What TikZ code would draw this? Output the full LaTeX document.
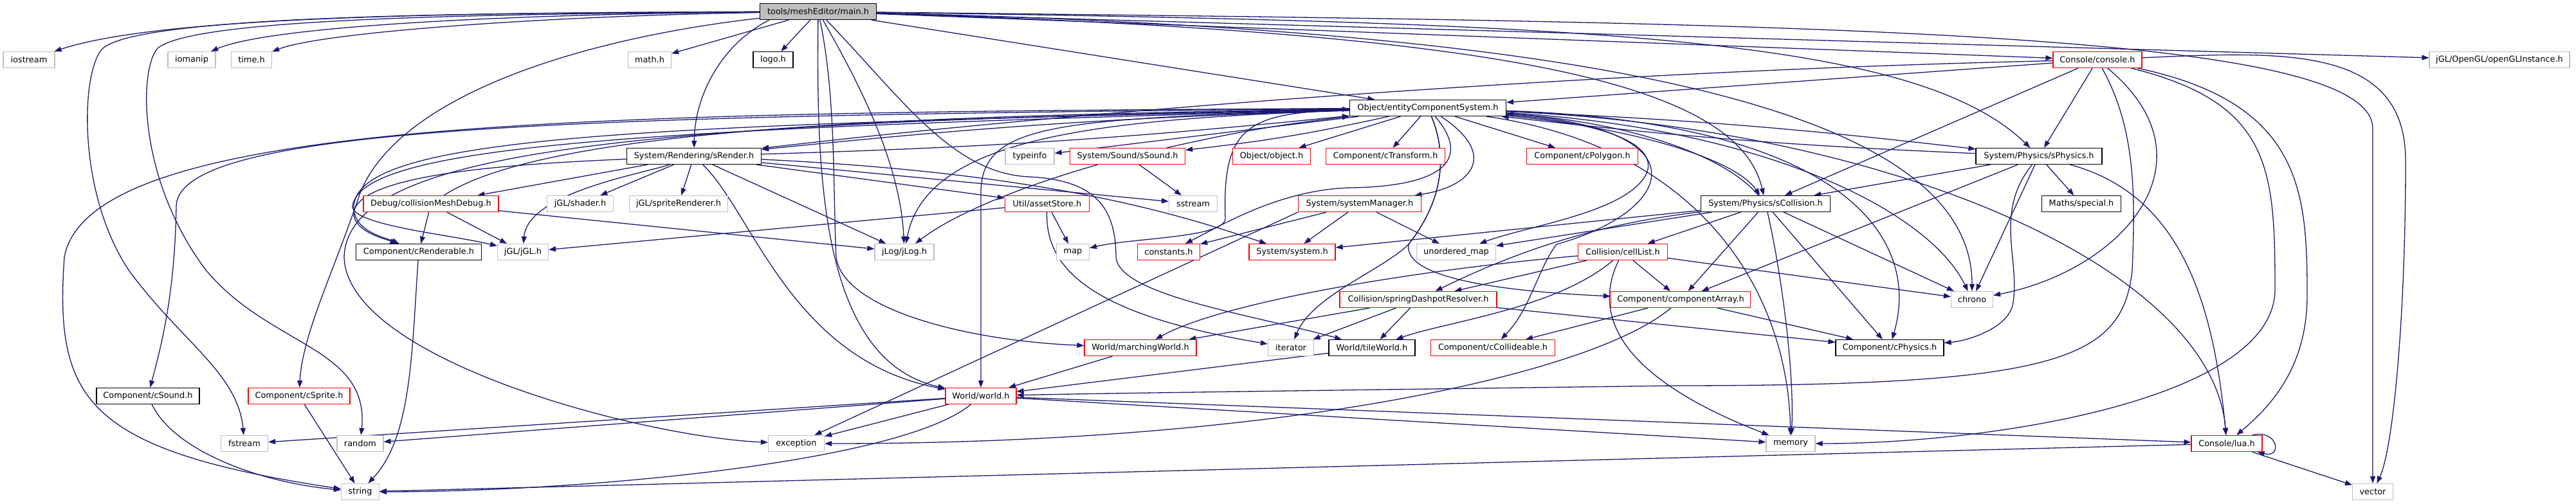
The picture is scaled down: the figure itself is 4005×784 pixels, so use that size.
\documentclass[tikz,border=0pt]{standalone}
\usepackage{fontspec}
\setmainfont{DejaVu Sans}
\usepackage{tikz}
\usetikzlibrary{
  arrows.meta,
  backgrounds,
}
\definecolor{edgeBlue}{HTML}{191970}
\definecolor{extGrey}{HTML}{BFBFBF}
\definecolor{truncRed}{HTML}{FF0000}
\definecolor{rootFill}{HTML}{BFBFBF}
\tikzset{
  hdrBox/.style={
    rectangle, draw=black, line width=1.2pt, fill=white,
    minimum height=25pt, inner xsep=3pt, inner ysep=0pt,
    font=\fontsize{12.9}{14}\selectfont,
  },
  hdrExt/.style={hdrBox, draw=extGrey},
  hdrTrunc/.style={hdrBox, draw=truncRed},
  hdrRoot/.style={hdrBox, fill=rootFill},
  incArrow/.style={
    -{Triangle[length=11pt,width=8pt]}, line width=1.3pt, color=edgeBlue,
  },
}

\begin{document}
\begin{tikzpicture}[x=1pt, y=-1pt]
\useasboundingbox (0,0) rectangle (4005,784);

\node[hdrRoot, minimum width=181] (mainH) at (1272,18) {tools/meshEditor/main.h};

\node[hdrExt, minimum width=80] (iostreamH) at (45,93) {iostream};
\node[hdrExt, minimum width=74] (iomanipH) at (298,93) {iomanip};
\node[hdrExt, minimum width=63] (timeH) at (391,93) {time.h};
\node[hdrExt, minimum width=67] (mathH) at (1010,93) {math.h};
\node[hdrBox, minimum width=62] (logoH) at (1202,93) {logo.h};
\node[hdrTrunc, minimum width=138] (consoleH) at (3261,93) {Console/console.h};
\node[hdrExt, minimum width=218] (openglH) at (3886,93) {jGL/OpenGL/openGLInstance.h};

\node[hdrBox, minimum width=243] (ecsH) at (2220,168) {Object/entityComponentSystem.h};

\node[hdrBox, minimum width=209] (srenderH) at (1079,243) {System/Rendering/sRender.h};
\node[hdrExt, minimum width=76] (typeinfoH) at (1601,243) {typeinfo};
\node[hdrTrunc, minimum width=179] (ssoundH) at (1753,243) {System/Sound/sSound.h};
\node[hdrTrunc, minimum width=121] (objectH) at (1977,243) {Object/object.h};
\node[hdrTrunc, minimum width=185] (ctransformH) at (2154,243) {Component/cTransform.h};
\node[hdrTrunc, minimum width=173] (cpolygonH) at (2460,243) {Component/cPolygon.h};
\node[hdrBox, minimum width=196] (sphysicsH) at (3170,243) {System/Physics/sPhysics.h};

\node[hdrTrunc, minimum width=210] (colmeshH) at (670,317) {Debug/collisionMeshDebug.h};
\node[hdrExt, minimum width=103] (shaderH) at (902,317) {jGL/shader.h};
\node[hdrExt, minimum width=153] (spriteRendH) at (1055,317) {jGL/spriteRenderer.h};
\node[hdrTrunc, minimum width=131] (assetStoreH) at (1628,317) {Util/assetStore.h};
\node[hdrExt, minimum width=75] (sstreamH) at (1855,317) {sstream};
\node[hdrTrunc, minimum width=191] (sysMgrH) at (2114,317) {System/systemManager.h};
\node[hdrBox, minimum width=201] (scollisionH) at (2745,317) {System/Physics/sCollision.h};
\node[hdrBox, minimum width=123] (specialH) at (3236,317) {Maths/special.h};

\node[hdrBox, minimum width=195] (crenderableH) at (651,392) {Component/cRenderable.h};
\node[hdrExt, minimum width=79] (jglH) at (813,392) {jGL/jGL.h};
\node[hdrExt, minimum width=92] (jlogH) at (1406,392) {jLog/jLog.h};
\node[hdrExt, minimum width=51] (mapH) at (1668,392) {map};
\node[hdrTrunc, minimum width=97] (constantsH) at (1817,392) {constants.h};
\node[hdrTrunc, minimum width=134] (systemH) at (2009,392) {System/system.h};
\node[hdrExt, minimum width=123] (umapH) at (2264,392) {unordered\_map};
\node[hdrTrunc, minimum width=139] (cellListH) at (2523,392) {Collision/cellList.h};

\node[hdrTrunc, minimum width=244] (springDashH) at (2205,466) {Collision/springDashpotResolver.h};
\node[hdrTrunc, minimum width=217] (compArrayH) at (2613,466) {Component/componentArray.h};
\node[hdrExt, minimum width=65] (chronoH) at (3066,466) {chrono};

\node[hdrTrunc, minimum width=174] (marchingH) at (1773,541) {World/marchingWorld.h};
\node[hdrExt, minimum width=71] (iteratorH) at (2007,541) {iterator};
\node[hdrBox, minimum width=134] (tileWorldH) at (2133,541) {World/tileWorld.h};
\node[hdrTrunc, minimum width=193] (ccollideH) at (2321,541) {Component/cCollideable.h};
\node[hdrBox, minimum width=168] (cphysicsH) at (2938,541) {Component/cPhysics.h};

\node[hdrBox, minimum width=160] (csoundH) at (230,616) {Component/cSound.h};
\node[hdrTrunc, minimum width=158] (cspriteH) at (465,616) {Component/cSprite.h};
\node[hdrTrunc, minimum width=110] (worldH) at (1525,616) {World/world.h};

\node[hdrExt, minimum width=73] (fstreamH) at (380,690) {fstream};
\node[hdrExt, minimum width=72] (randomH) at (560,690) {random};
\node[hdrExt, minimum width=87] (exceptionH) at (1238,690) {exception};
\node[hdrExt, minimum width=76] (memoryH) at (2784,690) {memory};
\node[hdrTrunc, minimum width=110] (luaH) at (3462,690) {Console/lua.h};

\node[hdrExt, minimum width=59] (stringH) at (560,765) {string};
\node[hdrExt, minimum width=63] (vectorH) at (3689,765) {vector};

\begin{scope}[on background layer]
% main.h
\draw[incArrow] (mainH) .. controls (700,20) and (250,25) .. (iostreamH);
\draw[incArrow] (mainH) .. controls (800,22) and (420,40) .. (iomanipH);
\draw[incArrow] (mainH) .. controls (850,25) and (500,50) .. (timeH);
\draw[incArrow] (mainH) -- (mathH);
\draw[incArrow] (mainH) -- (logoH);
\draw[incArrow] ([xshift=15pt]mainH.south west) .. controls (1120,70) and (1080,150) .. (srenderH);
\draw[incArrow] (mainH) -- (ecsH);
\draw[incArrow] (mainH) -- (consoleH);
\draw[incArrow] (mainH) -- (openglH);
\draw[incArrow] (mainH) .. controls (2500,35) and (2980,60) .. (sphysicsH);
\draw[incArrow] (mainH) .. controls (2300,50) and (2700,120) .. (scollisionH);
\draw[incArrow] (mainH) .. controls (2400,45) and (3066,150) .. (chronoH);
\draw[incArrow] (mainH) .. controls (2800,35) and (3689,45) .. (3689,200) -- (vectorH);
\draw[incArrow] (mainH) .. controls (1330,120) and (1400,250) .. (jlogH);
\draw[incArrow] (mainH) .. controls (1270,250) and (1270,560) .. (worldH);
\draw[incArrow] (mainH) .. controls (1300,150) and (1295,300) .. (1300,400)
  .. controls (1310,480) and (1500,530) .. (marchingH);
\draw[incArrow] (mainH) .. controls (1400,150) and (1480,270) .. (1600,275)
  .. controls (1700,280) and (1735,320) .. (1735,400)
  .. controls (1740,460) and (1950,490) .. (tileWorldH);
\draw[incArrow] (mainH) .. controls (700,20) and (220,25) .. (160,75)
  .. controls (125,110) and (120,300) .. (200,420)
  .. controls (280,530) and (370,580) .. (fstreamH);
\draw[incArrow] (mainH) .. controls (700,22) and (300,30) .. (245,75)
  .. controls (215,110) and (215,280) .. (320,420)
  .. controls (420,540) and (575,540) .. (randomH);
\draw[incArrow] (mainH) .. controls (900,60) and (620,150) .. (560,300)
  .. controls (520,420) and (470,520) .. (cspriteH);
% entityComponentSystem.h
\draw[incArrow] (ecsH) -- (typeinfoH);
\draw[incArrow] (ecsH) to[bend left=3] (ssoundH);
\draw[incArrow] (ssoundH) to[bend left=3] (ecsH);
\draw[incArrow] (ecsH) -- (objectH);
\draw[incArrow] (ecsH) -- (ctransformH);
\draw[incArrow] (ecsH) -- (cpolygonH);
\draw[incArrow] (ecsH) .. controls (2330,240) and (2290,290) .. (sysMgrH);
\draw[incArrow] (ecsH) .. controls (2290,250) and (2240,290) .. (2100,292)
  .. controls (1990,295) and (1900,350) .. (constantsH);
\draw[incArrow] (ecsH) .. controls (1940,175) and (1900,195) .. (1905,340)
  .. controls (1905,370) and (1760,370) .. (mapH);
\draw[incArrow] (ecsH) .. controls (2480,190) and (2580,220) .. (2560,270)
  .. controls (2530,330) and (2380,350) .. (umapH);
\draw[incArrow] (ecsH) .. controls (1700,185) and (1440,215) .. (jlogH);
\draw[incArrow] (ecsH) .. controls (900,175) and (140,185) .. (100,400)
  .. controls (85,620) and (130,700) .. (stringH);
\draw[incArrow] (ecsH) .. controls (900,180) and (280,195) .. (274,320)
  .. controls (272,460) and (250,540) .. (csoundH);
\draw[incArrow] (ecsH) .. controls (1000,195) and (560,210) .. (550,320)
  .. controls (548,360) and (600,370) .. (crenderableH);
\draw[incArrow] (ecsH) .. controls (1000,200) and (565,225) .. (548,320)
  .. controls (545,350) and (700,365) .. (jglH);
\draw[incArrow] (ecsH) .. controls (1000,190) and (540,230) .. (535,400)
  .. controls (540,560) and (1000,680) .. (exceptionH);
\draw[incArrow] (ecsH) to[bend right=2] (srenderH);
\draw[incArrow] (srenderH) to[bend right=2] (ecsH);
\draw[incArrow] (ecsH) to[bend left=2] (sphysicsH);
\draw[incArrow] (sphysicsH) to[bend left=2] (ecsH);
\draw[incArrow] (ecsH) .. controls (2550,200) and (2700,250) .. (scollisionH);
\draw[incArrow] (scollisionH) .. controls (2680,240) and (2530,190) .. (ecsH);
\draw[incArrow] (ecsH) .. controls (1650,185) and (1525,190) .. (1525,300) -- (worldH);
\draw[incArrow] (ecsH) .. controls (2250,240) and (2245,310) .. (2190,380)
  .. controls (2150,420) and (2040,460) .. (iteratorH);
\draw[incArrow] (ecsH) .. controls (2250,240) and (2245,310) .. (2190,380)
  .. controls (2180,440) and (2380,455) .. (compArrayH);
\draw[incArrow] (ecsH) .. controls (2660,200) and (2600,330) .. (2420,380)
  .. controls (2390,420) and (2380,480) .. (ccollideH);
\draw[incArrow] (ecsH) .. controls (2750,200) and (3000,330) .. (chronoH);
\draw[incArrow] (ecsH) .. controls (2850,190) and (2990,360) .. (cphysicsH);
\draw[incArrow] (ecsH) .. controls (2650,230) and (2780,460) .. (memoryH);
\draw[incArrow] (ecsH) .. controls (2950,200) and (3440,420) .. (luaH);
% sRender.h
\draw[incArrow] (srenderH) -- (colmeshH);
\draw[incArrow] (srenderH) -- (shaderH);
\draw[incArrow] (srenderH) -- (spriteRendH);
\draw[incArrow] (srenderH) .. controls (1000,270) and (820,300) .. (jglH);
\draw[incArrow] (srenderH) -- (jlogH);
\draw[incArrow] (srenderH) .. controls (800,255) and (560,270) .. (550,330)
  .. controls (548,360) and (600,372) .. (crenderableH);
\draw[incArrow] (srenderH) -- (assetStoreH);
\draw[incArrow] (srenderH) -- (sstreamH);
\draw[incArrow] (srenderH) .. controls (1650,270) and (1850,340) .. (systemH);
\draw[incArrow] (srenderH) .. controls (1170,330) and (1230,560) .. (worldH);
% collisionMeshDebug.h
\draw[incArrow] (colmeshH) -- (crenderableH);
\draw[incArrow] (colmeshH) -- (jglH);
\draw[incArrow] (colmeshH) -- (jlogH);
\draw[incArrow] (colmeshH) .. controls (850,200) and (1400,180) .. (ecsH);
% assetStore.h, sSound.h, systemManager.h
\draw[incArrow] (assetStoreH) -- (jglH);
\draw[incArrow] (assetStoreH) -- (mapH);
\draw[incArrow] (assetStoreH) .. controls (1625,420) and (1700,490) .. (iteratorH);
\draw[incArrow] (ssoundH) .. controls (1640,275) and (1500,320) .. (jlogH);
\draw[incArrow] (ssoundH) -- (sstreamH);
\draw[incArrow] (sysMgrH) -- (constantsH);
\draw[incArrow] (sysMgrH) -- (systemH);
\draw[incArrow] (sysMgrH) -- (umapH);
\draw[incArrow] (sysMgrH.south west) -- (exceptionH);
% sPhysics.h
\draw[incArrow] (sphysicsH) -- (scollisionH);
\draw[incArrow] (sphysicsH) -- (specialH);
\draw[incArrow] (sphysicsH) -- (compArrayH);
\draw[incArrow] (sphysicsH) -- (chronoH);
\draw[incArrow] (sphysicsH) .. controls (3100,330) and (3140,400) .. (3130,470)
  .. controls (3125,510) and (3060,530) .. (cphysicsH);
\draw[incArrow] (sphysicsH) .. controls (3380,300) and (3440,450) .. (luaH);
% sCollision.h
\draw[incArrow] (scollisionH) -- (cellListH);
\draw[incArrow] (scollisionH) .. controls (2560,340) and (2420,360) .. (springDashH);
\draw[incArrow] (scollisionH) -- (compArrayH);
\draw[incArrow] (scollisionH) -- (chronoH);
\draw[incArrow] (scollisionH) -- (umapH);
\draw[incArrow] (scollisionH) -- (systemH);
\draw[incArrow] (scollisionH) -- (cphysicsH);
\draw[incArrow] (scollisionH) .. controls (2775,450) and (2790,600) .. (memoryH);
% console.h
\draw[incArrow] (consoleH) -- (ecsH);
\draw[incArrow] (consoleH) .. controls (2500,110) and (1700,170) .. (srenderH);
\draw[incArrow] (consoleH) -- (sphysicsH);
\draw[incArrow] (consoleH) -- (scollisionH);
\draw[incArrow] (consoleH) .. controls (3450,250) and (3300,420) .. (chronoH);
\draw[incArrow] (consoleH) .. controls (3530,160) and (3537,260) .. (3537,450)
  .. controls (3537,620) and (3100,690) .. (memoryH);
\draw[incArrow] (consoleH) .. controls (3580,160) and (3587,300) .. (3587,460)
  .. controls (3587,580) and (3520,640) .. (luaH);
\draw[incArrow] (consoleH) .. controls (3550,80) and (3740,70) .. (3740,250)
  .. controls (3740,500) and (3720,700) .. (vectorH);
\draw[incArrow] (consoleH) .. controls (3320,200) and (3320,300) .. (3315,420)
  .. controls (3300,560) and (3200,600) .. (2600,600)
  .. controls (2000,608) and (1700,612) .. (worldH);
% cellList.h, springDashpotResolver.h, componentArray.h
\draw[incArrow] (cellListH) -- (springDashH);
\draw[incArrow] (cellListH) -- (compArrayH);
\draw[incArrow] (cellListH) -- (chronoH);
\draw[incArrow] (cellListH) .. controls (2200,420) and (1900,470) .. (marchingH);
\draw[incArrow] (cellListH) .. controls (2420,480) and (2250,500) .. (tileWorldH);
\draw[incArrow] (cellListH) .. controls (2480,480) and (2500,580) .. (memoryH);
\draw[incArrow] (springDashH) -- (marchingH);
\draw[incArrow] (springDashH) -- (iteratorH);
\draw[incArrow] (springDashH) -- (tileWorldH);
\draw[incArrow] (springDashH) -- (cphysicsH);
\draw[incArrow] (compArrayH) -- (cphysicsH);
\draw[incArrow] (compArrayH) -- (ccollideH);
\draw[incArrow] (compArrayH) .. controls (2480,580) and (2000,690) .. (exceptionH);
% world.h
\draw[incArrow] (marchingH) -- (worldH);
\draw[incArrow] (tileWorldH) -- (worldH);
\draw[incArrow] (worldH) -- (fstreamH);
\draw[incArrow] (worldH) -- (randomH);
\draw[incArrow] (worldH) -- (exceptionH);
\draw[incArrow] (worldH) .. controls (1400,720) and (900,765) .. (stringH);
\draw[incArrow] (worldH) -- (memoryH);
\draw[incArrow] (worldH) -- (luaH);
% leaves
\draw[incArrow] (crenderableH) .. controls (640,550) and (640,680) .. (stringH);
\draw[incArrow] (csoundH) .. controls (270,700) and (400,750) .. (stringH);
\draw[incArrow] (cspriteH) -- (stringH);
\draw[incArrow] (luaH) -- (stringH);
\draw[incArrow] (luaH) -- (vectorH);
\draw[incArrow] ([xshift=-16pt]luaH.north east) .. controls +(40,-10) and +(40,10) .. ([xshift=-8pt]luaH.south east);
\end{scope}
\end{tikzpicture}
\end{document}
